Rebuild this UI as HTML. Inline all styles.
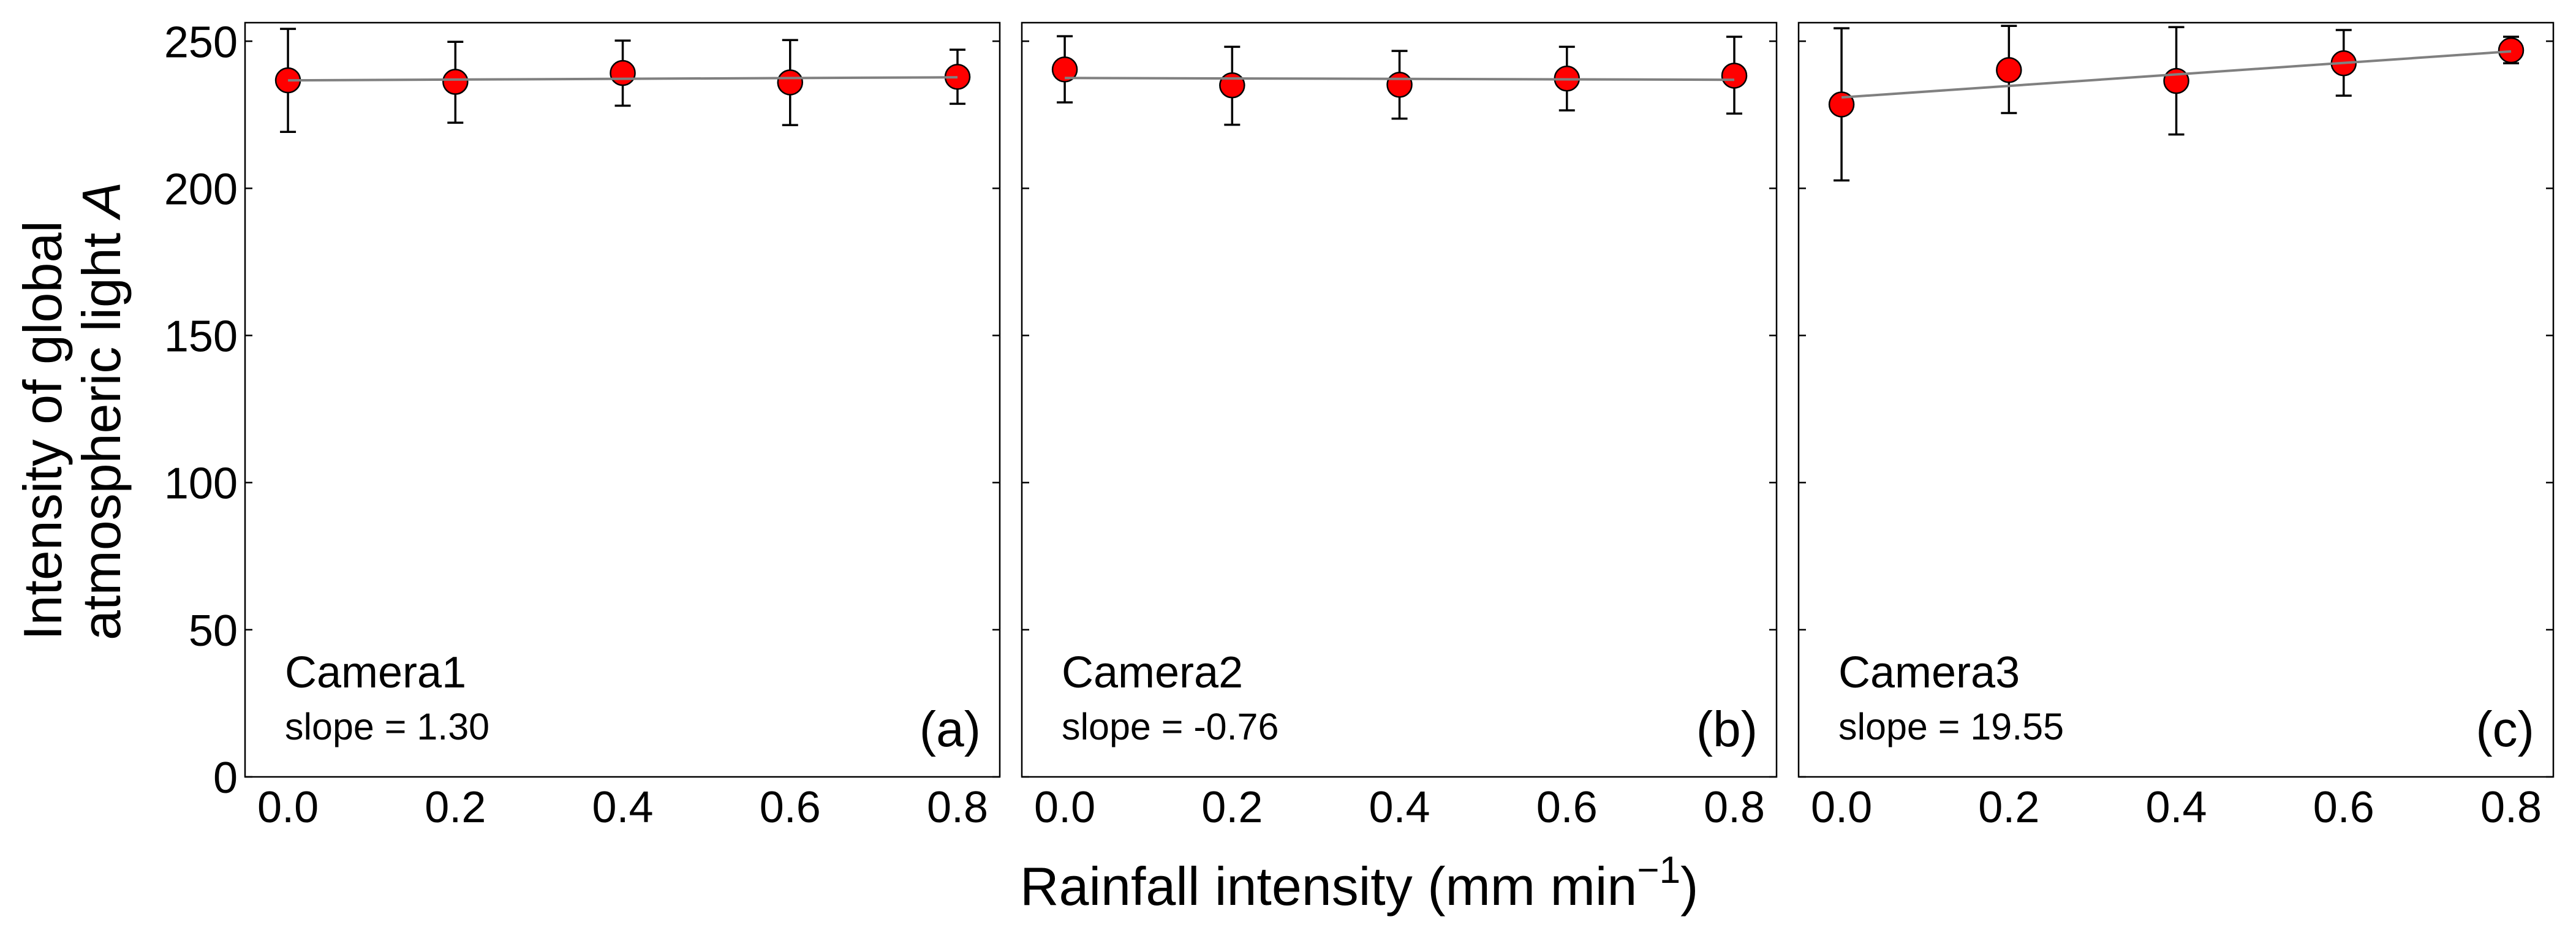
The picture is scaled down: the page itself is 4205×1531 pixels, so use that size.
<!DOCTYPE html>
<html><head><meta charset="utf-8"><style>
html,body{margin:0;padding:0;background:#fff;}
svg{display:block;font-family:"Liberation Sans",Arial,sans-serif;}
</style></head><body>
<svg id="chart" width="4205" height="1531" viewBox="0 0 4205 1531" xmlns="http://www.w3.org/2000/svg">
<g font-size="88" fill="#000">
<text transform="translate(100,1045) rotate(-90)" text-anchor="start">Intensity of global</text>
<text transform="translate(196,1045) rotate(-90)" text-anchor="start">atmospheric light <tspan font-style="italic">A</tspan></text>
</g>
<text x="1665" y="1477" font-size="88">Rainfall intensity (mm min<tspan dy="-36" font-size="62">−1</tspan><tspan dy="36">)</tspan></text>
<g id="panels"></g>
</svg>
<script>
const xTicks = [0.0, 0.2, 0.4, 0.6, 0.8];
const yTicks = [0, 50, 100, 150, 200, 250];
const rain = [0.0, 0.2, 0.4, 0.6, 0.8];
const cam1Mean = [236.7, 236.2, 239.2, 236.0, 237.9];
const cam1Upper = [254.2, 249.8, 250.2, 250.4, 247.1];
const cam1Lower = [219.2, 222.3, 228.1, 221.5, 228.75];
const cam2Mean = [240.4, 235.0, 235.2, 237.3, 238.3];
const cam2Upper = [251.7, 248.1, 246.7, 248.1, 251.5];
const cam2Lower = [229.2, 221.6, 223.7, 226.5, 225.4];
const cam3Mean = [228.5, 240.2, 236.5, 242.5, 246.9];
const cam3Upper = [254.4, 255.2, 254.8, 253.8, 251.5];
const cam3Lower = [202.7, 225.6, 218.3, 231.5, 242.5];
const fitIntercepts = [236.7, 237.5, 230.9];
const fitSlopes = [1.30, -0.76, 19.55];
const cameraNames = ["Camera1", "Camera2", "Camera3"];
const slopeLabels = ["slope = 1.30", "slope = -0.76", "slope = 19.55"];
const panelTags = ["(a)", "(b)", "(c)"];

const NS = "http://www.w3.org/2000/svg";
const means = [cam1Mean, cam2Mean, cam3Mean];
const uppers = [cam1Upper, cam2Upper, cam3Upper];
const lowers = [cam1Lower, cam2Lower, cam3Lower];
const panelLefts = [400, 1668, 2936];
const PW = 1232, TOP = 37, BOT = 1268;
const XMIN = -0.0513, XMAX = 0.8505, YMIN = 0, YMAX = 256.3;
const root = document.getElementById("panels");
function mk(tag, attrs, parent) {
  const e = document.createElementNS(NS, tag);
  for (const k in attrs) e.setAttribute(k, attrs[k]);
  parent.appendChild(e);
  return e;
}
panelLefts.forEach((L, p) => {
  const sx = v => L + (v - XMIN) / (XMAX - XMIN) * PW;
  const sy = v => BOT - (v - YMIN) / (YMAX - YMIN) * (BOT - TOP);
  const g = mk("g", {}, root);
  
  
  const frame = mk("rect", {x: L, y: TOP, width: PW, height: BOT - TOP, fill: "none", stroke: "#000", "stroke-width": 2.5}, g);
  
  
  yTicks.forEach(t => {
    const y = sy(t);
    const tl = mk("line", {x1: L, x2: L + 12, y1: y, y2: y, stroke: "#000", "stroke-width": 2.5}, g);
    
    
    const tr = mk("line", {x1: L + PW - 12, x2: L + PW, y1: y, y2: y, stroke: "#000", "stroke-width": 2.5}, g);
    
    
    if (p === 0) {
      const lab = mk("text", {x: 388, y: y + 26, "text-anchor": "end", "font-size": 72}, g);
      lab.textContent = String(t);
      
      
    }
  });
  xTicks.forEach(t => {
    const lab = mk("text", {x: sx(t), y: 1342, "text-anchor": "middle", "font-size": 72}, g);
    lab.textContent = t.toFixed(1);
    
    
  });
  rain.forEach((x, i) => {
    const eb = mk("g", {stroke: "#000", "stroke-width": 3.5}, g);
    
    
    const cx = sx(x);
    mk("line", {x1: cx, x2: cx, y1: sy(uppers[p][i]), y2: sy(lowers[p][i])}, eb);
    mk("line", {x1: cx - 13, x2: cx + 13, y1: sy(uppers[p][i]), y2: sy(uppers[p][i])}, eb);
    mk("line", {x1: cx - 13, x2: cx + 13, y1: sy(lowers[p][i]), y2: sy(lowers[p][i])}, eb);
  });
  rain.forEach((x, i) => {
    const c = mk("circle", {cx: sx(x), cy: sy(means[p][i]), r: 20, fill: "#ff0000", stroke: "#000", "stroke-width": 2.5}, g);
    
    
  });
  const x0 = rain[0], x1 = rain[rain.length - 1];
  const fit = mk("line", {x1: sx(x0), y1: sy(fitIntercepts[p] + fitSlopes[p] * x0), x2: sx(x1), y2: sy(fitIntercepts[p] + fitSlopes[p] * x1), stroke: "#808080", "stroke-width": 4}, g);
  
  
  const cam = mk("text", {x: L + 65, y: 1122, "font-size": 72}, g);
  cam.textContent = cameraNames[p];
  
  
  const sl = mk("text", {x: L + 65, y: 1207, "font-size": 61}, g);
  sl.textContent = slopeLabels[p];
  
  
  const tag = mk("text", {x: L + PW - 31, y: 1218, "text-anchor": "end", "font-size": 82}, g);
  tag.textContent = panelTags[p];
  
  
});
</script>
</body></html>
